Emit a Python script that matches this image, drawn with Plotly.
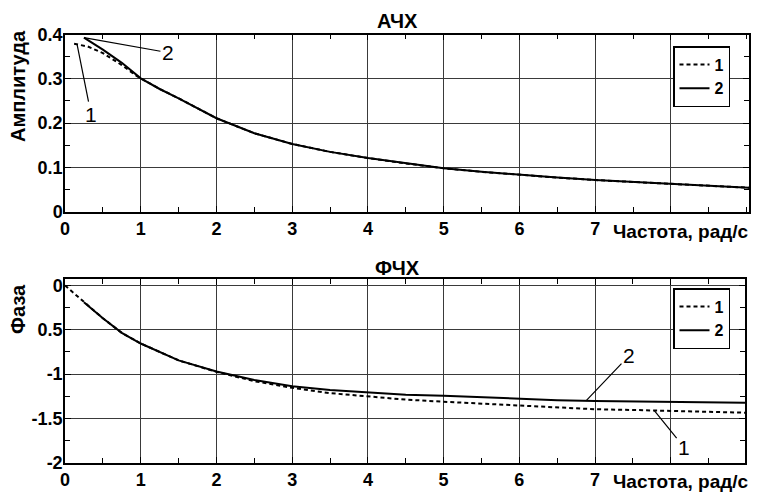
import plotly.graph_objects as go

# ---------------- data ----------------
amp_freq_2 = [0.25, 0.5, 0.75, 1.0, 1.25, 1.5, 2.0, 2.5, 3.0, 3.5, 4.0, 4.5, 5.0, 5.5, 6.0, 6.5, 7.0, 7.5, 8.0, 8.5, 9.03]
amp_vals_2 = [0.393, 0.366, 0.336, 0.301, 0.277, 0.256, 0.211, 0.177, 0.153, 0.135, 0.121, 0.109, 0.098, 0.090, 0.083, 0.077, 0.0715, 0.067, 0.064, 0.059, 0.054]

amp_freq_1 = [0.12, 0.3, 0.5, 0.75, 0.95, 1.0, 1.25, 1.5, 2.0, 2.5, 3.0, 3.5, 4.0, 4.5, 5.0, 5.5, 6.0, 6.5, 7.0, 7.5, 8.0, 8.5, 9.03]
amp_vals_1 = [0.379, 0.373, 0.358, 0.331, 0.306, 0.301, 0.277, 0.256, 0.211, 0.177, 0.153, 0.135, 0.121, 0.109, 0.098, 0.090, 0.083, 0.077, 0.0715, 0.067, 0.064, 0.059, 0.054]

ph_freq_1 = [0, 0.25, 0.5, 0.75, 1.0, 1.5, 2.0, 2.5, 3.0, 3.5, 4.0, 4.5, 5.0, 5.5, 6.0, 6.5, 7.0, 7.5, 8.0, 8.5, 8.98]
ph_vals_1 = [0, -0.19, -0.37, -0.535, -0.655, -0.845, -0.975, -1.08, -1.155, -1.215, -1.255, -1.288, -1.312, -1.335, -1.357, -1.378, -1.397, -1.405, -1.413, -1.425, -1.436]

ph_freq_2 = [0.25, 0.5, 0.75, 1.0, 1.5, 2.0, 2.5, 3.0, 3.5, 4.0, 4.5, 5.0, 5.5, 6.0, 6.5, 7.0, 7.5, 8.0, 8.5, 8.98]
ph_vals_2 = [-0.19, -0.37, -0.535, -0.655, -0.845, -0.97, -1.067, -1.138, -1.18, -1.21, -1.232, -1.244, -1.262, -1.281, -1.295, -1.303, -1.308, -1.312, -1.318, -1.323]

x_tick_vals = [0, 1, 2, 3, 4, 5, 6, 7, 8]
x_tick_text = ["0", "1", "2", "3", "4", "5", "6", "7", ""]
amp_tick_vals = [0, 0.1, 0.2, 0.3, 0.4]
amp_tick_text = ["0", "0.1", "0.2", "0.3", "0.4"]
ph_tick_vals = [-2, -1.5, -1, -0.5, 0]
ph_tick_text = ["-2", "-1.5", "-1", "0.5", "0"]

series_names = ["1", "2"]
title_amp = "АЧХ"
title_ph = "ФЧХ"
ylabel_amp = "Амплитуда"
ylabel_ph = "Фаза"
xlabel = "Частота, рад/с"

# ---------------- layout helpers ----------------
# the page body has an 8px margin, so the figure starts at (8, 8) on screen
OFF = 8
W, H = 760 - OFF, 495 - OFF
FONT = "Liberation Sans, Arial, sans-serif"


def px(x):
    return (x - OFF) / W


def py(y):
    return 1 - (y - OFF) / H


line_black = dict(color="black", width=2)
line_dash = dict(color="black", width=2, dash="4px,3px")

fig = go.Figure()

fig.add_trace(go.Scatter(x=amp_freq_1, y=amp_vals_1, mode="lines", name=series_names[0],
                         line=line_dash, xaxis="x", yaxis="y", legend="legend"))
fig.add_trace(go.Scatter(x=amp_freq_2, y=amp_vals_2, mode="lines", name=series_names[1],
                         line=line_black, xaxis="x", yaxis="y", legend="legend"))
fig.add_trace(go.Scatter(x=ph_freq_1, y=ph_vals_1, mode="lines", name=series_names[0],
                         line=line_dash, xaxis="x2", yaxis="y2", legend="legend2"))
fig.add_trace(go.Scatter(x=ph_freq_2, y=ph_vals_2, mode="lines", name=series_names[1],
                         line=line_black, xaxis="x2", yaxis="y2", legend="legend2"))

tick_font = dict(family=FONT, size=18, color="black", weight="bold")
axis_common = dict(
    showline=True, linecolor="black", linewidth=1.5, mirror="ticks",
    ticks="inside", ticklen=6, tickcolor="black", tickwidth=1,
    showgrid=True, gridcolor="#3a3a3a", gridwidth=1,
    zeroline=False, automargin=False,
    tickfont=tick_font,
)
minor_x = dict(dtick=0.5, tick0=0, ticks="inside", ticklen=5, tickcolor="black", showgrid=False)

legend_common = dict(xanchor="left", yanchor="top",
                     bgcolor="white", bordercolor="black", borderwidth=1.5,
                     font=dict(family=FONT, size=16, color="black", weight="bold"),
                     itemwidth=30, tracegroupgap=0)

fig.update_layout(
    width=W, height=H,
    margin=dict(l=0, r=0, t=0, b=0, autoexpand=False),
    paper_bgcolor="white", plot_bgcolor="white",
    font=dict(family=FONT, color="black"),
    xaxis=dict(axis_common, domain=[px(65), px(749)], range=[0, 9.03], anchor="y",
               tickmode="array", tickvals=x_tick_vals, ticktext=x_tick_text, minor=minor_x),
    yaxis=dict(axis_common, domain=[py(211.7), py(34.5)], range=[0, 0.4], anchor="x",
               tickmode="array", tickvals=amp_tick_vals, ticktext=amp_tick_text,
               ticklabelstandoff=-3,
               minor=dict(dtick=0.05, tick0=0, ticks="inside", ticklen=5, tickcolor="black", showgrid=False)),
    xaxis2=dict(axis_common, domain=[px(65), px(745)], range=[0, 8.98], anchor="y2",
                tickmode="array", tickvals=x_tick_vals, ticktext=x_tick_text, minor=minor_x),
    yaxis2=dict(axis_common, domain=[py(462.7), py(279)], range=[-2, 0.073], anchor="x2",
                tickmode="array", tickvals=ph_tick_vals, ticktext=ph_tick_text,
                ticklabelstandoff=-3,
                minor=dict(dtick=0.25, tick0=0, ticks="inside", ticklen=5, tickcolor="black", showgrid=False)),
    legend=dict(legend_common, x=px(673), y=py(46)),
    legend2=dict(legend_common, x=px(673), y=py(288)),
    showlegend=True,
)

ann_font = dict(family=FONT, size=20, color="black", weight="bold")
xlab_font = dict(family=FONT, size=19, color="black", weight="bold")
annotations = [
    dict(text=title_amp, x=px(398), y=py(21), xref="paper", yref="paper", showarrow=False,
         xanchor="center", yanchor="middle", font=ann_font),
    dict(text=title_ph, x=px(398), y=py(268), xref="paper", yref="paper", showarrow=False,
         xanchor="center", yanchor="middle", font=ann_font),
    dict(text=ylabel_amp, x=px(18), y=py(86), xref="paper", yref="paper", showarrow=False,
         xanchor="center", yanchor="middle", textangle=-90, font=ann_font),
    dict(text=ylabel_ph, x=px(18), y=py(309), xref="paper", yref="paper", showarrow=False,
         xanchor="center", yanchor="middle", textangle=-90, font=ann_font),
    dict(text=xlabel, x=px(751), y=py(232), xref="paper", yref="paper", xanchor="right",
         yanchor="middle", showarrow=False, font=xlab_font),
    dict(text=xlabel, x=px(751), y=py(481), xref="paper", yref="paper", xanchor="right",
         yanchor="middle", showarrow=False, font=xlab_font),
]

lab_font = dict(family=FONT, size=21, color="black")
leaders = [
    # (xref, yref, x, y, ax, ay, text)
    ("x", "y", amp_freq_2[0], amp_vals_2[0], 84, 15, series_names[1]),
    ("x", "y", 0.16, 0.377, 14, 70, series_names[0]),
    ("x2", "y2", 6.88, -1.302, 43, -45, series_names[1]),
    ("x2", "y2", 7.78, -1.41, 30, 37, series_names[0]),
]
for xr, yr, xv, yv, ax, ay, t in leaders:
    annotations.append(dict(text=t, x=xv, y=yv, xref=xr, yref=yr, ax=ax, ay=ay,
                            axref="pixel", ayref="pixel", showarrow=True, arrowhead=0,
                            arrowwidth=1.2, arrowcolor="black", font=lab_font))

fig.update_layout(annotations=annotations)

fig.write_html("out.html")
